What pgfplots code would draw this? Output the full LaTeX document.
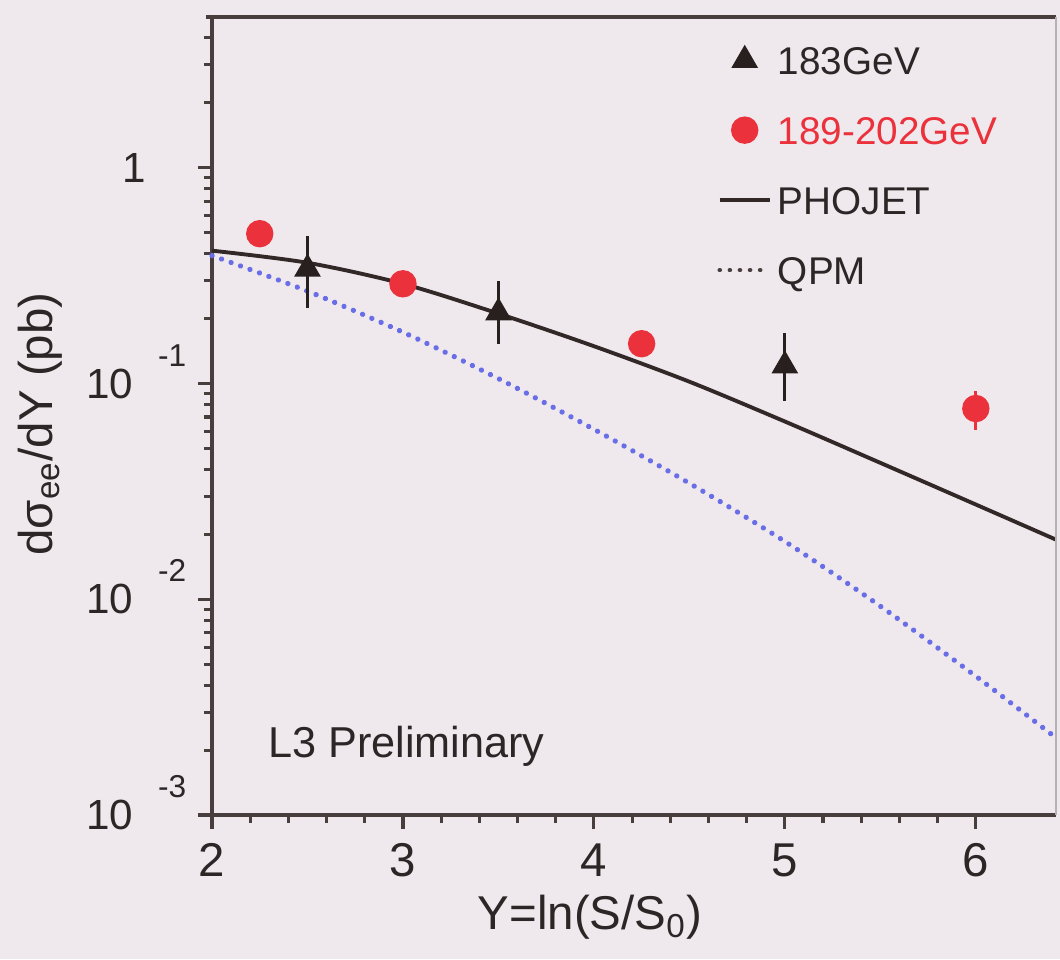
\documentclass[border=0pt]{standalone}
\usepackage{fontspec}
\setmainfont{Liberation Sans}
\usepackage{pgfplots}
\pgfplotsset{compat=1.18}
\usetikzlibrary{calc,backgrounds}

\definecolor{bgcol}{RGB}{239,233,238}
\definecolor{axiscol}{RGB}{72,62,62}
\definecolor{textcol}{RGB}{45,38,38}
\definecolor{phojetcol}{RGB}{50,40,40}
\definecolor{qpmcol}{RGB}{105,110,230}
\definecolor{redcol}{RGB}{235,50,60}
\definecolor{tricol}{RGB}{40,32,30}

\newcommand{\ylab}[1]{10\hspace{2.5mm}\smash{\raisebox{3.2mm}{\fontsize{9}{9}\selectfont -#1}}}

\pgfplotsset{
  marklegend/.style={legend image code/.code={\draw[mark repeat=2,mark phase=2,##1] plot coordinates {(0mm,0mm) (2.5mm,0mm) (5mm,0mm)};}},
  linelegend/.style={legend image code/.code={\draw[##1] (0mm,0mm) -- (5mm,0mm);}}
}

\begin{document}
\begin{tikzpicture}
\begin{axis}[
  scale only axis, width=84.4mm, height=79.8mm,
  xmin=2, xmax=6.42, ymin=1e-3, ymax=5, ymode=log,
  axis x line=bottom, axis y line=left,
  axis line style={-, line width=1.3pt, draw=axiscol},
  xtick={2,3,4,5,6}, xticklabels={2,3,4,5,6}, minor x tick num=4,
  ytick={0.001,0.01,0.1,1},
  yticklabels={\ylab{3},\ylab{2},\ylab{1},1\kern4mm},
  minor ytick={0.002,0.003,0.004,0.005,0.006,0.007,0.008,0.009,
               0.02,0.03,0.04,0.05,0.06,0.07,0.08,0.09,
               0.2,0.3,0.4,0.5,0.6,0.7,0.8,0.9,2,3,4},
  tick align=outside, major tick length=1.4mm, minor tick length=0.8mm,
  every tick/.style={line width=0.9pt, draw=axiscol},
  xticklabel style={font=\fontsize{13.5}{14}\selectfont, text=textcol, inner sep=0pt, anchor=north, yshift=-1.4mm},
  yticklabel style={font=\fontsize{12}{12}\selectfont, text=textcol, inner sep=0pt, anchor=east, xshift=-1.1mm},
  xlabel={Y=ln(S/S\textsubscript{0})},
  ylabel={dσ\textsubscript{ee}/dY (pb)},
  xlabel style={font=\fontsize{13.5}{14}\selectfont, text=textcol, at={(axis description cs:0.448,-0.144)}, anchor=base, inner sep=0pt},
  ylabel style={font=\fontsize{13.5}{13.5}\selectfont, text=textcol, at={(axis description cs:-0.204,0.49)}, anchor=center, rotate=0, inner sep=0pt},
  legend style={at={(axis description cs:0.598,0.965)}, anchor=north west, draw=none, fill=none,
    font=\fontsize{11}{11}\selectfont, text=textcol, inner sep=0pt, row sep=4.1mm, column sep=0.6mm,
    nodes={inner sep=0pt, text height=2.9mm, text depth=0mm}},
  legend cell align=left,
  clip=false,
]
\addlegendimage{marklegend, only marks, mark=triangle*, mark size=1.4mm, color=tricol}
\addlegendentry{183GeV}
\addlegendimage{marklegend, only marks, mark=*, mark size=1.3mm, color=redcol}
\addlegendentry{\textcolor{redcol}{189-202GeV}}
\addlegendimage{linelegend, line width=1.1pt, color=phojetcol}
\addlegendentry{PHOJET}
\addlegendimage{linelegend, line width=1.3pt, color=axiscol, line cap=round, dash pattern=on 0.01mm off 1mm}
\addlegendentry{QPM}

% QPM
\addplot[forget plot, smooth, line width=1.5pt, color=qpmcol, line cap=round, dash pattern=on 0.01mm off 1mm] coordinates {
  (2.0,0.392) (2.5,0.268) (3.0,0.173) (3.5,0.1054) (4.0,0.0614) (4.5,0.0345)
  (5.0,0.01854) (5.5,0.00929) (6.0,0.00440) (6.42,0.00228)
};
% PHOJET
\addplot[forget plot, smooth, line width=1.1pt, color=phojetcol] coordinates {
  (2.0,0.413) (2.5,0.363) (3.0,0.290) (3.5,0.211) (4.0,0.149) (4.5,0.102)
  (5.0,0.0667) (5.5,0.0429) (6.0,0.0275) (6.42,0.0189)
};
% 189-202 GeV
\addplot[forget plot, only marks, mark=*, mark size=1.3mm, color=redcol,
  error bars/.cd, y dir=both, y explicit, error mark=none,
  error bar style={line width=0.9pt, color=redcol}] coordinates {
  (2.25,0.495) += (0,0.045) -= (0,0.045)
  (3.0,0.290) += (0,0.026) -= (0,0.026)
  (4.25,0.153) += (0,0.014) -= (0,0.014)
  (6.0,0.0766) += (0,0.0162) -= (0,0.0160)
};
% 183 GeV
\addplot[forget plot, only marks, mark=triangle*, mark size=1.4mm, color=tricol,
  error bars/.cd, y dir=both, y explicit, error mark=none,
  error bar style={line width=0.9pt, color=tricol}] coordinates {
  (2.5,0.340) += (0,0.145) -= (0,0.115)
  (3.5,0.213) += (0,0.087) -= (0,0.061)
  (5.0,0.121) += (0,0.051) -= (0,0.0376)
};
\node[font=\fontsize{12.3}{12}\selectfont, text=textcol, anchor=base west, inner sep=0pt]
  at (axis description cs:0.066,0.0727) {L3 Preliminary};
\end{axis}
\draw[axiscol, line width=1.3pt] ($(current axis.north west)+(-0.6mm,0)$) -- (current axis.north east);
\draw[gray!60, line width=0.6pt] (current axis.north east) -- (current axis.south east);
\pgfresetboundingbox
\coordinate (A) at ($(current axis.south west)+(-21.2mm,-14.4mm)$);
\coordinate (B) at ($(current axis.north east)+(0.4mm,1.7mm)$);
\begin{pgfonlayer}{background}
\fill[bgcol] (A) rectangle (B);
\end{pgfonlayer}
\useasboundingbox (A) rectangle (B);
\end{tikzpicture}
\end{document}
